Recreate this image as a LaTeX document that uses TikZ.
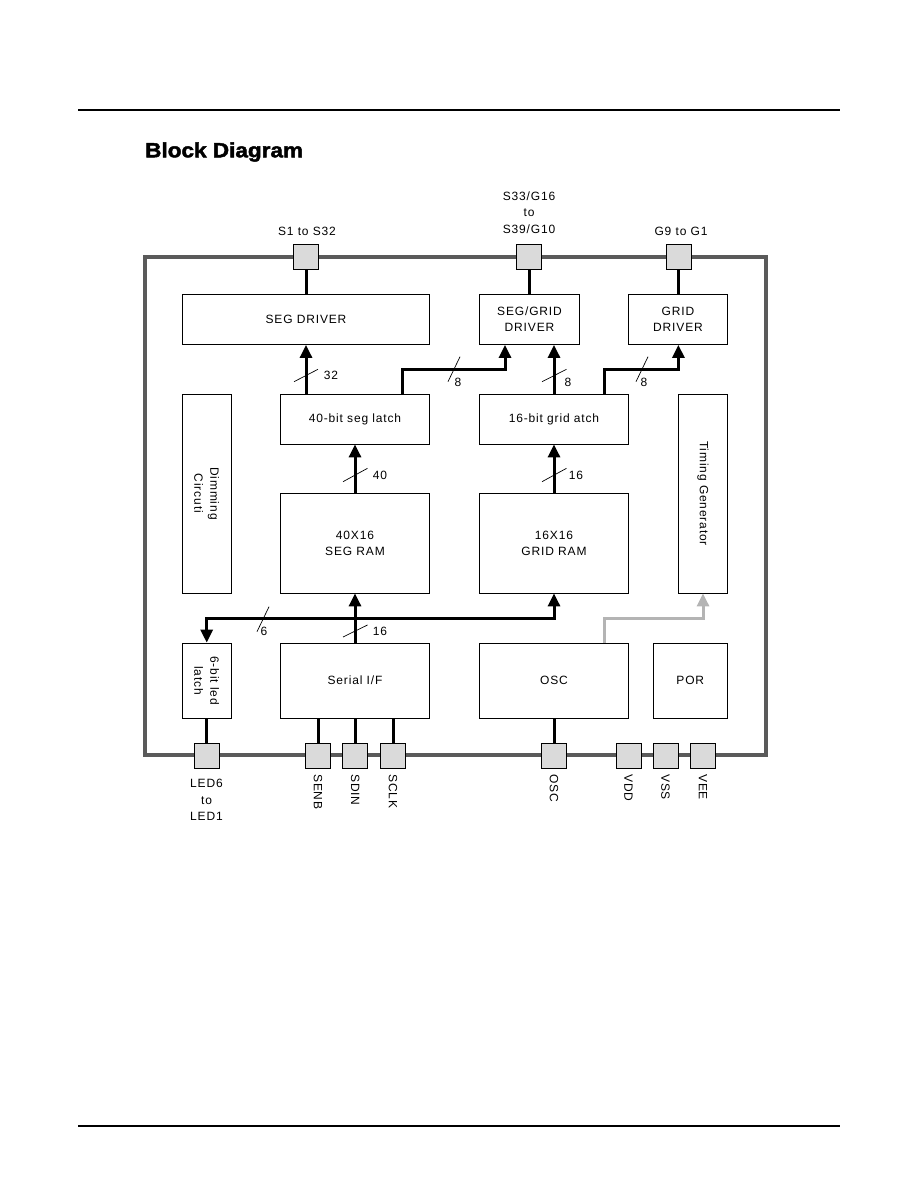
\documentclass[tikz,border=0pt]{standalone}
\usepackage{fontspec}
\setmainfont{Liberation Sans}[LetterSpace=7]
\newfontfamily\titlefont{Liberation Sans}[FakeStretch=1.1,FakeBold=2.2]
\usetikzlibrary{arrows.meta}
\definecolor{boxgray}{HTML}{5A5A5A}
\definecolor{pinfill}{HTML}{DADADA}
\definecolor{arrgray}{HTML}{B4B4B4}
\begin{document}
\begin{tikzpicture}[x=1pt,y=-1pt,
  blk/.style={draw=black, line width=0.8pt, inner sep=0pt, align=center, font=\fontsize{12}{16}\selectfont},
  txt/.style={inner sep=0pt, align=center, font=\fontsize{12}{16}\selectfont},
  pinbox/.style={draw=black, line width=0.7pt, fill=pinfill, minimum size=25pt, inner sep=0pt},
  bus/.style={line width=3pt},
  tip/.tip={Triangle[length=13pt,width=12pt]},
  arr/.style={bus, -tip},
  garr/.style={line width=3pt, draw=arrgray, -tip},
  slash/.style={line width=0.7pt},
  lbl/.style={inner sep=0pt, font=\fontsize{12}{16}\selectfont}
]
\useasboundingbox (0,0) rectangle (918,1188);
% page rules
\coordinate (rtl) at (78,110); \coordinate (rtr) at (840,110);
\coordinate (rbl) at (78,1126); \coordinate (rbr) at (840,1126);
\draw[line width=1.2pt] (rtl) -- (rtr);
\draw[line width=1.2pt] (rbl) -- (rbr);
% title
\node[anchor=base west, inner sep=0pt, font=\titlefont\bfseries\fontsize{20.5}{24}\selectfont] (title) at (145,157.3) {Block Diagram};
% outer box
\draw[line width=4pt, draw=boxgray] (145,257) rectangle (766,755);
% blocks
\node[blk, minimum width=247pt, minimum height=50pt] (segdrv) at (306,319.5) {SEG DRIVER};
\node[blk, minimum width=100pt, minimum height=50pt] (sgdrv) at (529.5,319.5) {SEG/GRID\\DRIVER};
\node[blk, minimum width=99.5pt, minimum height=50pt] (grdrv) at (678,319.5) {GRID\\DRIVER};
\node[blk, minimum width=149pt, minimum height=50pt] (seglat) at (355,419) {40-bit seg latch};
\node[blk, minimum width=148.6pt, minimum height=50pt] (grdlat) at (554,419) {16-bit grid atch};
\node[blk, minimum width=48.5pt, minimum height=199pt] (dim) at (206.7,493.5) {};
\node[txt, rotate=-90] (dimtxt) at (dim) {Dimming\\Circuti};
\node[blk, minimum width=49.3pt, minimum height=199pt] (timing) at (703,493.5) {};
\node[txt, rotate=-90] (timtxt) at (timing) {Timing Generator};
\node[blk, minimum width=149pt, minimum height=100pt] (segram) at (355,543) {40X16\\SEG RAM};
\node[blk, minimum width=148.6pt, minimum height=100pt] (grdram) at (554,543) {16X16\\GRID RAM};
\node[blk, minimum width=48.5pt, minimum height=75pt] (ledlat) at (206.7,680.5) {};
\node[txt, rotate=-90] (ledtxt) at (ledlat) {6-bit led\\latch};
\node[blk, minimum width=149pt, minimum height=75pt] (serial) at (355,680.5) {Serial I/F};
\node[blk, minimum width=148.6pt, minimum height=75pt] (osc) at (554,680.5) {OSC};
\node[blk, minimum width=74.7pt, minimum height=75pt] (por) at (690.3,680.5) {POR};
% pins
\node[pinbox] (pS1) at (306,256.5) {};
\node[pinbox] (pSG) at (529,256.5) {};
\node[pinbox] (pG9) at (678.4,256.5) {};
\node[pinbox] (pLED) at (206.5,755.5) {};
\node[pinbox] (pSENB) at (318,755.5) {};
\node[pinbox] (pSDIN) at (355.3,755.5) {};
\node[pinbox] (pSCLK) at (393,755.5) {};
\node[pinbox] (pOSC) at (554,755.5) {};
\node[pinbox] (pVDD) at (628.6,755.5) {};
\node[pinbox] (pVSS) at (665.4,755.5) {};
\node[pinbox] (pVEE) at (703,755.5) {};
% pin labels
\node[lbl] (lS1) at (307,231.7) {S1 to S32};
\node[lbl, align=center, font=\fontsize{12}{16.6}\selectfont] (lSG) at (529,212.7) {S33/G16\\to\\S39/G10};
\node[lbl] (lG9) at (681,231.7) {G9 to G1};
\node[lbl, align=center, font=\fontsize{12}{16.5}\selectfont] (lLED) at (206.5,800) {LED6\\to\\LED1};
\node[lbl, rotate=-90, anchor=west] (lSENB) at (318,774) {SENB};
\node[lbl, rotate=-90, anchor=west] (lSDIN) at (355.3,774) {SDIN};
\node[lbl, rotate=-90, anchor=west] (lSCLK) at (393,774) {SCLK};
\node[lbl, rotate=-90, anchor=west] (lOSC) at (554,774) {OSC};
\node[lbl, rotate=-90, anchor=west] (lVDD) at (628.6,774) {VDD};
\node[lbl, rotate=-90, anchor=west] (lVSS) at (665.4,774) {VSS};
\node[lbl, rotate=-90, anchor=west] (lVEE) at (703,774) {VEE};
% pin connections
\draw[bus] (pS1.south) -- (pS1.south |- segdrv.north);
\draw[bus] (pSG.south) -- (pSG.south |- sgdrv.north);
\draw[bus] (pG9.south) -- (pG9.south |- grdrv.north);
\draw[bus] (pLED.north |- ledlat.south) -- (pLED.north);
\draw[bus] (pSENB.north |- serial.south) -- (pSENB.north);
\draw[bus] (pSDIN.north |- serial.south) -- (pSDIN.north);
\draw[bus] (pSCLK.north |- serial.south) -- (pSCLK.north);
\draw[bus] (osc.south) -- (pOSC.north);
% helper coordinates
\coordinate (xa) at (306,0);
\coordinate (xb) at (402,0);
\coordinate (xc) at (505,0);
\coordinate (xe) at (604,0);
\coordinate (xf) at (678.4,0);
\coordinate (ya) at (0,369.3);
\coordinate (yb) at (0,618.3);
% arrows
\draw[arr] (seglat.north -| xa) -- (segdrv.south -| xa);
\draw[arr] (seglat.north -| xb) -- (xb |- ya) -- (xc |- ya) -- (sgdrv.south -| xc);
\draw[arr] (grdlat.north) -- (sgdrv.south -| grdlat.north);
\draw[arr] (grdlat.north -| xe) -- (xe |- ya) -- (xf |- ya) -- (grdrv.south -| xf);
\draw[arr] (segram.north) -- (seglat.south);
\draw[arr] (grdram.north) -- (grdlat.south);
\draw[arr] (serial.north) -- (segram.south);
\draw[bus, tip-tip] (ledlat.north) -- (ledlat.north |- yb) -- (grdram.south |- yb) -- (grdram.south);
\draw[garr] (osc.north -| xe) -- (xe |- yb) -- (timing.south |- yb) -- (timing.south);
% bus-width slashes
\draw[slash] (294,381.7) -- (318,369.3);
\draw[slash] (448,381.7) -- (460,356.7);
\draw[slash] (542,381.7) -- (566.5,369.3);
\draw[slash] (636,381.7) -- (648,356.7);
\draw[slash] (343,481.7) -- (367.5,468.3);
\draw[slash] (542,481.7) -- (566.5,468.3);
\draw[slash] (257,631.7) -- (269,606.7);
\draw[slash] (343,637) -- (367.5,625);
% slash labels
\node[lbl] (w32) at (331,375) {32};
\node[lbl] (w8a) at (458,382) {8};
\node[lbl] (w8b) at (568,382) {8};
\node[lbl] (w8c) at (644,382) {8};
\node[lbl] (w40) at (380,475) {40};
\node[lbl] (w16a) at (576,475) {16};
\node[lbl] (w6) at (264,631) {6};
\node[lbl] (w16b) at (380,631) {16};
\end{tikzpicture}
\end{document}
